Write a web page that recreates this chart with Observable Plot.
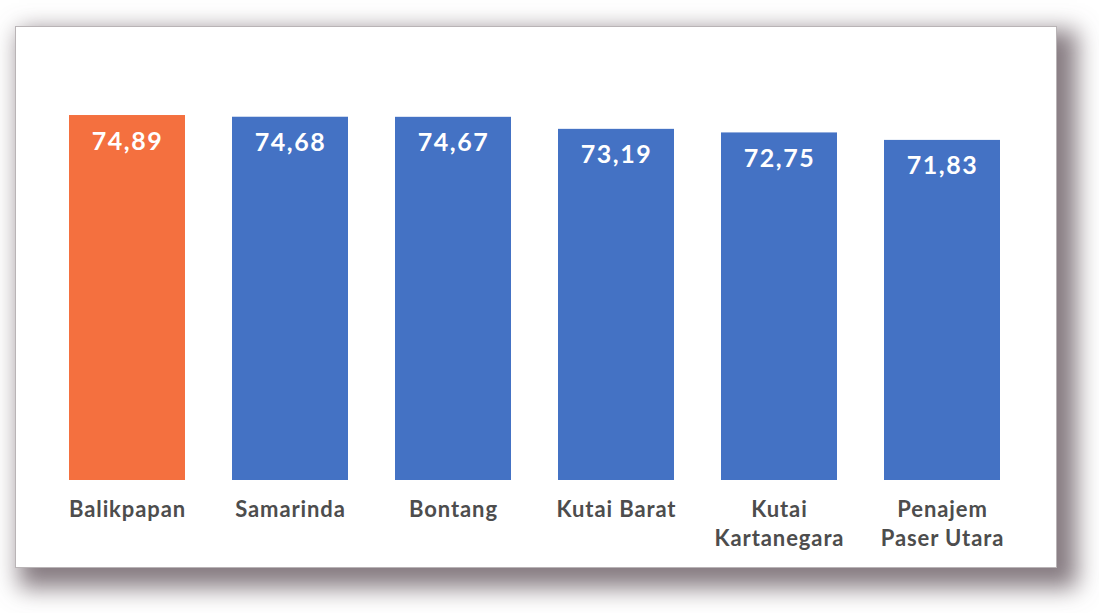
<!DOCTYPE html>
<html>
<head>
<meta charset="utf-8">
<script src="https://cdn.jsdelivr.net/npm/d3@7"></script>
<script src="https://cdn.jsdelivr.net/npm/@observablehq/plot@0.6"></script>
<style>
  html, body { margin: 0; padding: 0; background: #ffffff; width: 1099px; height: 613px; overflow: hidden; }
  #panel {
    position: absolute; left: 15px; top: 26px; width: 1040px; height: 540px;
    background: #ffffff; border: 1px solid #b9b4b6;
    box-shadow: 12px 12px 22px 8px rgba(95, 80, 88, 0.75);
  }
  #chart { position: absolute; left: 0; top: 0; }
  #chart g[aria-label="x-axis tick label"] text { letter-spacing: 0.9px; }
  #chart g[aria-label="text"] text { letter-spacing: 1.5px; }
</style>
</head>
<body>
<div id="panel"></div>
<div id="chart"></div>
<script>
const cities = ["Balikpapan", "Samarinda", "Bontang", "Kutai Barat", "Kutai\nKartanegara", "Penajem\nPaser Utara"];
const values = [74.89, 74.68, 74.67, 73.19, 72.75, 71.83];
const barColors = ["#F4703F", "#4472C4", "#4472C4", "#4472C4", "#4472C4", "#4472C4"];
const valueLabels = ["74,89", "74,68", "74,67", "73,19", "72,75", "71,83"];

const data = cities.map((c, i) => ({city: c, value: values[i], color: barColors[i], label: valueLabels[i]}));

const chart = Plot.plot({
  width: 1099,
  height: 613,
  marginLeft: 43,
  marginRight: 74,
  marginTop: 106,
  marginBottom: 133,
  style: {background: "transparent", fontFamily: "Lato, 'Open Sans', sans-serif"},
  x: {domain: cities, paddingInner: 0.29, paddingOuter: 0.145, label: null},
  y: {domain: [30, 76], axis: null},
  marks: [
    Plot.barY(data, {x: "city", y1: 30, y2: "value", fill: "color"}),
    Plot.text(data, {x: "city", y: "value", text: "label", dy: 26, fill: "white",
      fontSize: 25, fontWeight: "bold", fontFamily: "Lato, 'Open Sans', sans-serif"}),
    Plot.axisX({tickSize: 0, tickPadding: 15, fontSize: 22, fontWeight: "bold",
      fill: "#4d4d4d", lineHeight: 1.35, label: null})
  ]
});
document.getElementById("chart").appendChild(chart);
</script>
</body>
</html>
